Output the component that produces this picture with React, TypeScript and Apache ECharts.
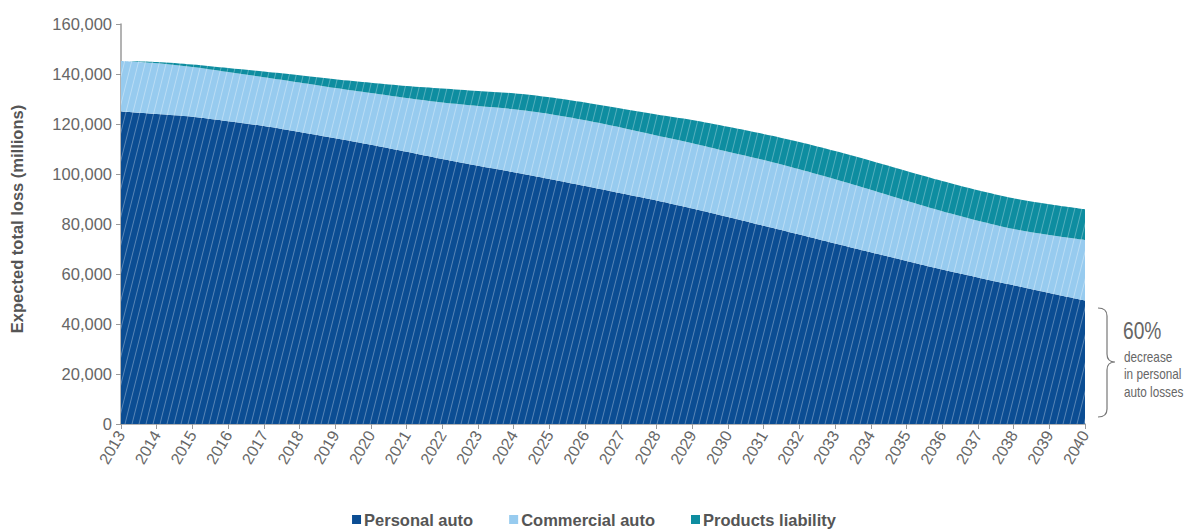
import React, { useEffect, useRef } from "react";
import * as echarts from "echarts";

const years = [
  "2013", "2014", "2015", "2016", "2017", "2018", "2019", "2020", "2021", "2022",
  "2023", "2024", "2025", "2026", "2027", "2028", "2029", "2030", "2031", "2032",
  "2033", "2034", "2035", "2036", "2037", "2038", "2039", "2040",
];

// values in millions
const personalAuto = [
  125000, 124000, 122900, 121100, 119200, 116800, 114300, 111700, 108900, 106000,
  103300, 100700, 98000, 95200, 92300, 89400, 86200, 82800, 79300, 75800,
  72200, 68700, 65200, 61800, 58600, 55500, 52400, 49400,
];
const commercialAuto = [
  20200, 20300, 19900, 19700, 19500, 19800, 20100, 20700, 21500, 22600,
  23900, 25200, 26000, 26300, 26300, 26000, 26100, 26100, 26300, 26100,
  25700, 25000, 24100, 23300, 22700, 22500, 23200, 24200,
];
const productsLiability = [
  0, 500, 1000, 1600, 2300, 2900, 3500, 4100, 4800, 5600,
  6000, 6400, 6700, 7100, 7600, 8400, 9300, 10000, 10400, 10900,
  11300, 11600, 11900, 12100, 12200, 12300, 12300, 12300,
];

const seriesNames = ["Personal auto", "Commercial auto", "Products liability"];
const seriesColors = ["#0b4d93", "#97cbef", "#0e8da0"];

function makePattern(base: string, alpha: number): HTMLCanvasElement {
  const w = 7;
  const h = 28;
  const c = document.createElement("canvas");
  c.width = w;
  c.height = h;
  const ctx = c.getContext("2d")!;
  ctx.fillStyle = base;
  ctx.fillRect(0, 0, w, h);
  ctx.strokeStyle = `rgba(255,255,255,${alpha})`;
  ctx.lineWidth = 1;
  for (let k = -1; k <= 1; k++) {
    ctx.beginPath();
    ctx.moveTo(k * w, h);
    ctx.lineTo(k * w + w, 0);
    ctx.stroke();
  }
  return c;
}

export default function App() {
  const ref = useRef<HTMLDivElement>(null);

  useEffect(() => {
    document.body.style.margin = "0";
    if (!ref.current) return;
    const chart = echarts.init(ref.current, null, { renderer: "svg" });
    const alphas = [0.32, 0.35, 0.3];
    const data = [personalAuto, commercialAuto, productsLiability];

    echarts.graphic.registerShape(
      "brace",
      echarts.graphic.extendPath(
        "M0,0 C6,0 9,2 9,8 L9,46 C9,51 11,54 17,54 C11,54 9,57 9,62 L9,101 C9,107 6,109 0,109",
        {}
      )
    );

    const font = "'Liberation Sans', Arial, sans-serif";

    chart.setOption({
      animation: false,
      textStyle: { fontFamily: font },
      grid: { left: 121, right: 103, top: 24, bottom: 105, containLabel: false },
      legend: {
        bottom: -4,
        left: "center",
        icon: "rect",
        itemWidth: 9,
        itemHeight: 9,
        itemGap: 36,
        textStyle: { fontSize: 16.5, fontWeight: "bold", color: "#555", fontFamily: font, padding: [0, 0, 0, -2] },
        data: seriesNames.map((n, i) => ({ name: n, itemStyle: { color: seriesColors[i] } })),
      },
      xAxis: {
        type: "category",
        data: years,
        boundaryGap: false,
        axisLine: { lineStyle: { color: "#9a9a9a", width: 1.5 } },
        axisTick: { show: true, length: 5, alignWithLabel: true, lineStyle: { color: "#9a9a9a" } },
        axisLabel: { rotate: 60, fontSize: 16, color: "#666", margin: 8, interval: 0 },
      },
      yAxis: {
        type: "value",
        min: 0,
        max: 160000,
        interval: 20000,
        name: "Expected total loss (millions)",
        nameLocation: "middle",
        nameGap: 96,
        nameTextStyle: { fontSize: 16.5, fontWeight: "bold", color: "#555", padding: [0, 0, 0, 10] },
        axisLine: { show: true, lineStyle: { color: "#9a9a9a", width: 1.5 } },
        axisTick: { show: true, length: 5, lineStyle: { color: "#9a9a9a" } },
        splitLine: { show: false },
        axisLabel: {
          fontSize: 16.5,
          color: "#666",
          margin: 9,
          formatter: (v: number) => v.toLocaleString("en-US"),
        },
      },
      series: seriesNames.map((n, i) => ({
        name: n,
        type: "line",
        stack: "total",
        smooth: 0.3,
        showSymbol: false,
        symbol: "none",
        color: seriesColors[i],
        lineStyle: { width: 0 },
        areaStyle: {
          opacity: 1,
          color: { image: makePattern(seriesColors[i], alphas[i]), repeat: "repeat" },
        },
        data: data[i],
      })),
      graphic: [
        {
          type: "brace",
          x: 1098,
          y: 308,
          style: { stroke: "#777", fill: "none", lineWidth: 1.2 },
        },
        {
          type: "text",
          x: 1123,
          y: 319,
          scaleX: 0.8,
          style: {
            text: "60%",
            fontSize: 24,
            fill: "#666",
            fontFamily: font,
          },
        },
        {
          type: "text",
          x: 1124,
          y: 348,
          scaleX: 0.84,
          style: {
            text: "decrease\nin personal\nauto losses",
            fontSize: 14,
            lineHeight: 17.5,
            fill: "#666",
            fontFamily: font,
          },
        },
      ],
    });

    return () => chart.dispose();
  }, []);

  return <div ref={ref} style={{ position: "absolute", left: 0, top: 0, width: 1188, height: 529 }} />;
}
